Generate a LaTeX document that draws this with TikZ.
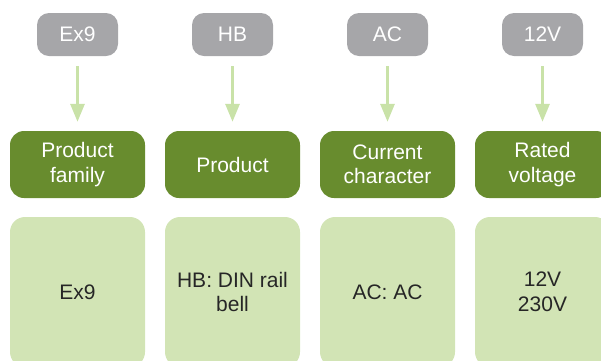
\documentclass[tikz,border=0pt]{standalone}
\usepackage{fontspec}
\setmainfont{Liberation Sans}
\usetikzlibrary{arrows.meta}
\definecolor{tagGray}{HTML}{A6A6A9}
\definecolor{darkGreen}{HTML}{688C2E}
\definecolor{lightGreen}{HTML}{D2E4B5}
\definecolor{arrowGreen}{HTML}{C9E2A8}
\definecolor{textDark}{HTML}{262626}
\begin{document}
\begin{tikzpicture}[x=1pt,y=1pt,
  tagbox/.style={fill=tagGray,rounded corners=12pt,minimum width=81pt,minimum height=43pt,inner sep=0pt,text=white,font=\fontsize{21}{25}\selectfont},
  headbox/.style={fill=darkGreen,rounded corners=14pt,minimum width=135pt,minimum height=67pt,inner sep=0pt,text=white,align=center,font=\fontsize{21}{24.5}\selectfont},
  valbox/.style={fill=lightGreen,rounded corners=15pt,minimum width=135pt,minimum height=150pt,inner sep=0pt,text=textDark,align=center,font=\fontsize{21}{24.5}\selectfont},
  flow/.style={draw=arrowGreen,line width=3pt,-{Triangle[length=18pt,width=14pt]},shorten <=10pt,shorten >=9pt}
]
\useasboundingbox (0,0) rectangle (601,-360);
\foreach \i/\x/\t/\h/\v in {1/77.5/Ex9/{Product\\family}/Ex9, 2/232.5/HB/Product/{HB: DIN rail\\bell}, 3/387.5/AC/{Current\\character}/{AC: AC}, 4/542.5/12V/{Rated\\voltage}/{12V\\230V}}{
  \node[tagbox] (t\i) at (\x,-34.5) {\t};
  \node[headbox] (h\i) at (\x,-164.5) {\h};
  \node[valbox] (v\i) at (\x,-292) {\v};
  \draw[flow] (t\i) -- (h\i);
}
\end{tikzpicture}
\end{document}
